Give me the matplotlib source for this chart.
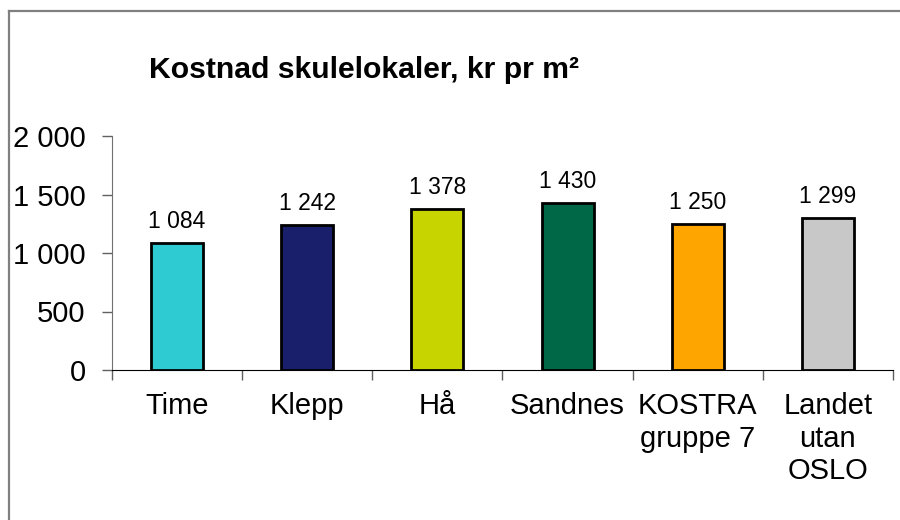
import matplotlib.pyplot as plt
from matplotlib.lines import Line2D
import numpy as np

plt.rcParams['font.family'] = ['Liberation Sans', 'DejaVu Sans']

# data
categories = ['Time', 'Klepp', 'Hå', 'Sandnes', 'KOSTRA\ngruppe 7', 'Landet\nutan\nOSLO']
values = [1084, 1242, 1378, 1430, 1250, 1299]
value_labels = ['1 084', '1 242', '1 378', '1 430', '1 250', '1 299']
bar_colors = ['#2ECCD2', '#1A1F6B', '#C8D400', '#006846', '#FFA500', '#C8C8C8']
y_ticks = [0, 500, 1000, 1500, 2000]
y_ticklabels = ['0', '500', '1 000', '1 500', '2 000']
title = 'Kostnad skulelokaler, kr pr m²'

fig = plt.figure(figsize=(9, 5.2), dpi=100)
W, H = 900, 520

# outer frame (only left and top edges visible in the crop)
fig.add_artist(Line2D([8.5 / W, 8.5 / W], [0, 1 - 11 / H], color='#808080', lw=1.6))
fig.add_artist(Line2D([8.5 / W, 1], [1 - 11 / H, 1 - 11 / H], color='#808080', lw=1.6))

ax = fig.add_axes([112 / W, 1 - 370 / H, (893 - 112) / W, (370 - 136) / H])
x = np.arange(len(categories))
bars = ax.bar(x, values, width=0.4, color=bar_colors, edgecolor='black', linewidth=2, zorder=3)

for xi, v, lab in zip(x, values, value_labels):
    ax.annotate(lab, (xi, v), xytext=(0, 7), textcoords='offset points',
                ha='center', va='bottom', fontsize=16.5)

ax.set_xlim(-0.5, len(categories) - 0.5)
ax.set_ylim(0, 2000)
ax.set_yticks(y_ticks)
ax.set_yticklabels(y_ticklabels, fontsize=21)
ax.set_xticks(x)
ax.set_xticklabels(categories, fontsize=21)
ax.set_xticks(np.arange(-0.5, len(categories)), minor=True)
ax.tick_params(axis='x', which='major', length=0, pad=16)
ax.tick_params(axis='x', which='minor', length=7, width=1, color='#606060', direction='out')
ax.tick_params(axis='y', length=7, width=1, color='#606060', pad=12)

ax.spines['top'].set_visible(False)
ax.spines['right'].set_visible(False)
ax.spines['left'].set_color('#707070')
ax.spines['bottom'].set_color('black')

fig.text(149 / W, 1 - 70 / H, title, fontsize=21.7, fontweight='bold', va='center', ha='left')

fig.savefig('out.png', dpi=100)
